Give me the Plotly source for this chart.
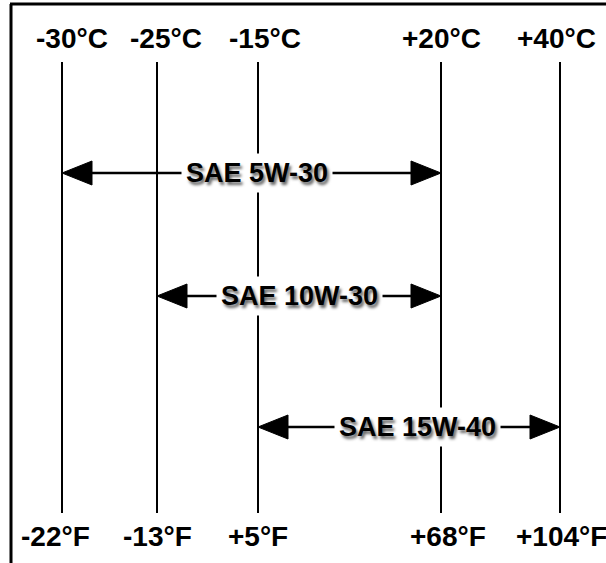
import plotly.graph_objects as go

# ---- data ----
temps_c = [-30, -25, -15, 20, 40]
temps_f = [-22, -13, 5, 68, 104]
c_labels = ["-30°C", "-25°C", "-15°C", "+20°C", "+40°C"]
f_labels = ["-22°F", "-13°F", "+5°F", "+68°F", "+104°F"]
oil_grades = ["SAE 5W-30", "SAE 10W-30", "SAE 15W-40"]
oil_min_c = [-30, -25, -15]
oil_max_c = [20, 20, 40]

# ---- layout constants (pixel coordinates of the drawing) ----
W, H = 606, 563
COL_X = [62, 157, 258, 441, 560]      # column position for each temperature
ROW_Y = [173, 296, 427]               # row for each oil grade
LINE_TOP, LINE_BOTTOM = 62, 513
TOP_LABEL_Y, BOTTOM_LABEL_Y = 38, 536
TOP_SHIFT = [10, 9, 7, 0, -4]
BOTTOM_SHIFT = [-7, 0, 0, 7, 1]
LABEL_XSHIFT = [5, 0, 8]
HEAD_LEN, HEAD_HALF = 30, 12

xpos = dict(zip(temps_c, COL_X))
FONT = "Liberation Sans, Arial, sans-serif"

fig = go.Figure()

# vertical temperature lines
for t in temps_c:
    fig.add_trace(go.Scatter(x=[xpos[t], xpos[t]], y=[LINE_TOP, LINE_BOTTOM], mode="lines",
                             line=dict(color="black", width=2), hoverinfo="skip", showlegend=False))

# arrows for each oil grade
for name, lo, hi, y in zip(oil_grades, oil_min_c, oil_max_c, ROW_Y):
    x0, x1 = xpos[lo], xpos[hi]
    fig.add_trace(go.Scatter(x=[x0 + HEAD_LEN - 2, x1 - HEAD_LEN + 2], y=[y, y], mode="lines",
                             line=dict(color="black", width=2.5), hoverinfo="skip", showlegend=False))
    fig.add_trace(go.Scatter(x=[x0, x0 + HEAD_LEN, x0 + HEAD_LEN, x0], y=[y, y - HEAD_HALF, y + HEAD_HALF, y],
                             mode="lines", fill="toself", fillcolor="black", line=dict(color="black", width=1),
                             hoverinfo="skip", showlegend=False))
    fig.add_trace(go.Scatter(x=[x1, x1 - HEAD_LEN, x1 - HEAD_LEN, x1], y=[y, y - HEAD_HALF, y + HEAD_HALF, y],
                             mode="lines", fill="toself", fillcolor="black", line=dict(color="black", width=1),
                             hoverinfo="skip", showlegend=False))

annotations = []
for t, cl, fl, ts, bs in zip(temps_c, c_labels, f_labels, TOP_SHIFT, BOTTOM_SHIFT):
    annotations.append(dict(x=xpos[t], y=TOP_LABEL_Y, xshift=ts, text=cl, showarrow=False,
                            xanchor="center", yanchor="middle",
                            font=dict(family=FONT, size=28, color="black", weight="bold")))
    annotations.append(dict(x=xpos[t], y=BOTTOM_LABEL_Y, xshift=bs, text=fl, showarrow=False,
                            xanchor="center", yanchor="middle",
                            font=dict(family=FONT, size=28, color="black", weight="bold")))

for name, lo, hi, y, dx in zip(oil_grades, oil_min_c, oil_max_c, ROW_Y, LABEL_XSHIFT):
    annotations.append(dict(x=(xpos[lo] + xpos[hi]) / 2, y=y, xshift=dx, text=name, showarrow=False,
                            xanchor="center", yanchor="middle", bgcolor="white", borderpad=4,
                            font=dict(family=FONT, size=27, color="black", weight="bold",
                                      shadow="2px 3px 3px rgba(0,0,0,0.6)")))

shapes = [
    dict(type="line", xref="x", yref="y", x0=11, y0=H + 5, x1=11, y1=4, line=dict(color="black", width=3)),
    dict(type="line", xref="x", yref="y", x0=10, y0=4, x1=W + 5, y1=4, line=dict(color="black", width=3)),
]

fig.update_layout(
    width=W, height=H, autosize=False,
    margin=dict(l=0, r=0, t=0, b=0),
    paper_bgcolor="white", plot_bgcolor="white",
    xaxis=dict(range=[0, W], visible=False, fixedrange=True),
    yaxis=dict(range=[H, 0], visible=False, fixedrange=True),
    annotations=annotations, shapes=shapes, showlegend=False,
)

fig.write_html("out.html", config={"displayModeBar": False},
               post_script="document.body.style.margin='0';document.body.style.overflow='hidden';")
